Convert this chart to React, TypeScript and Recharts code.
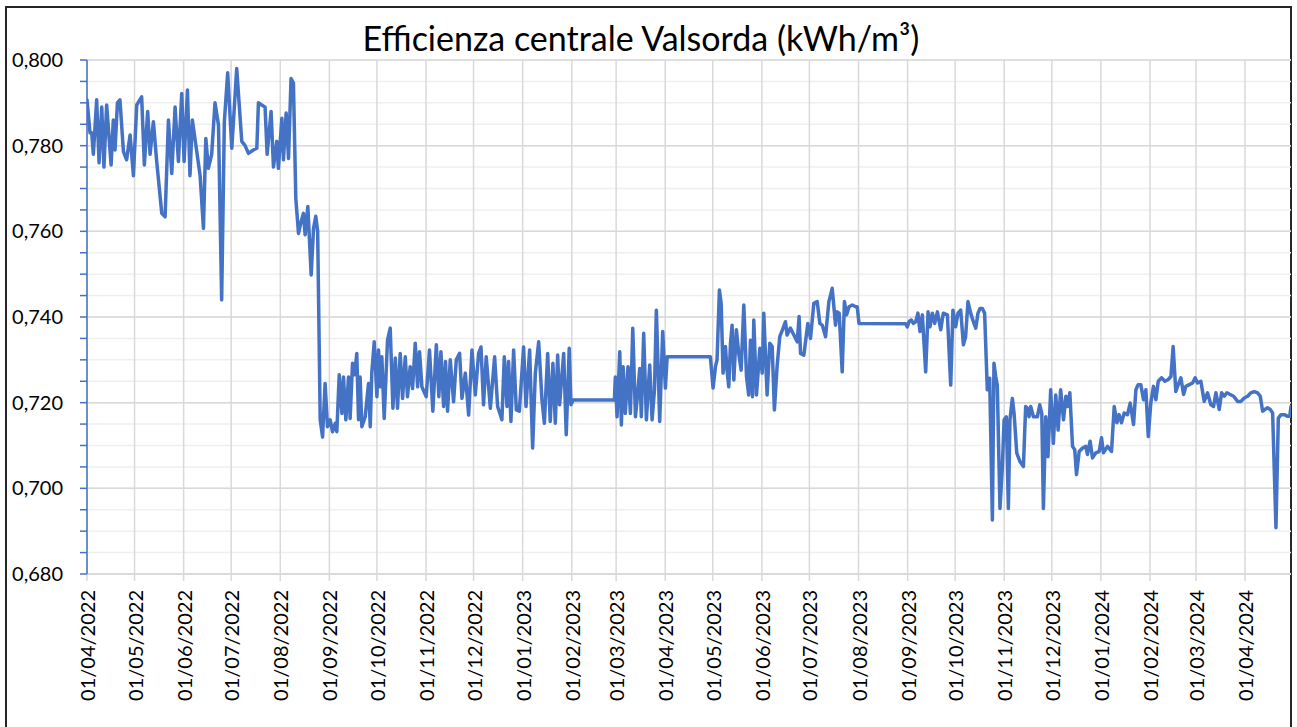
import React from 'react';
import { LineChart, Line, XAxis, YAxis, CartesianGrid } from 'recharts';

// giorni dal 01/04/2022
const monthDays = [0, 30, 61, 91, 122, 153, 183, 214, 244, 275, 306, 334, 365, 395, 426, 456, 487, 518, 548, 579, 609, 640, 671, 700, 731];
const monthLabels = [
  '01/04/2022', '01/05/2022', '01/06/2022', '01/07/2022', '01/08/2022', '01/09/2022', '01/10/2022',
  '01/11/2022', '01/12/2022', '01/01/2023', '01/02/2023', '01/03/2023', '01/04/2023', '01/05/2023',
  '01/06/2023', '01/07/2023', '01/08/2023', '01/09/2023', '01/10/2023', '01/11/2023', '01/12/2023',
  '01/01/2024', '01/02/2024', '01/03/2024', '01/04/2024',
];

const majorTicks = [0.68, 0.7, 0.72, 0.74, 0.76, 0.78, 0.8];
const allTicks = [
  0.68, 0.685, 0.69, 0.695, 0.7, 0.705, 0.71, 0.715, 0.72, 0.725, 0.73, 0.735, 0.74,
  0.745, 0.75, 0.755, 0.76, 0.765, 0.77, 0.775, 0.78, 0.785, 0.79, 0.795, 0.8,
];

// [giorno, kWh/m³]
const spring2022: [number, number][] = [
  [0, 0.7907], [1.9, 0.783], [3, 0.783], [4, 0.778], [6.1, 0.7907], [7.6, 0.776], [9.3, 0.789], [10.7, 0.775],
  [12.4, 0.7895], [15.2, 0.7755], [16.6, 0.786], [17.7, 0.779], [19.2, 0.79], [20.8, 0.7907], [23, 0.7786],
  [25, 0.7767], [27.2, 0.7825], [29.3, 0.773], [31.4, 0.7895], [34.5, 0.7914], [36.2, 0.7755], [38.3, 0.788],
  [39.8, 0.778], [41.9, 0.7856], [44, 0.7763], [47.2, 0.7642], [49.3, 0.7634], [51.4, 0.786], [53.5, 0.7735],
  [55.6, 0.789], [57.7, 0.7763], [59.8, 0.7922], [61.3, 0.7763], [63.4, 0.793], [65, 0.773], [66.5, 0.786],
  [69.3, 0.7786], [71.4, 0.773], [73.5, 0.7607], [75, 0.7817], [76.6, 0.7747], [78.7, 0.778], [80.8, 0.79],
  [83, 0.7848], [85, 0.744], [86.7, 0.7856], [88.8, 0.797], [91.4, 0.7794], [94.5, 0.798], [97.7, 0.781],
  [99.8, 0.78], [101.9, 0.7782], [105, 0.779], [107.2, 0.7794], [108.2, 0.79], [110.3, 0.7895], [112.4, 0.789],
  [113.7, 0.778], [116.2, 0.788], [117.7, 0.775], [119.8, 0.781], [120.8, 0.7747], [123, 0.7864], [124, 0.7767],
  [125.7, 0.7876], [127.2, 0.777], [128.8, 0.7957], [130.3, 0.7946], [131.8, 0.7677], [133.5, 0.7595],
  [135.2, 0.7623], [136.6, 0.7642], [137.7, 0.7592], [139.4, 0.7658], [141.5, 0.7498], [143, 0.7607],
  [144.4, 0.7635], [145.6, 0.76],
];

const autumn2022: [number, number][] = [
  [147.2, 0.716], [148.7, 0.712], [150.3, 0.7245], [151.8, 0.7144], [153.5, 0.716], [155, 0.7132], [156.7, 0.7152],
  [157.7, 0.7132], [159.2, 0.7265], [160.9, 0.7175], [161.9, 0.726], [163.4, 0.716], [165.1, 0.726], [166.1, 0.7163],
  [167.6, 0.7292], [168.9, 0.7265], [170.3, 0.7315], [171.4, 0.716], [172.4, 0.726], [173.5, 0.7144], [175.6, 0.7167],
  [177.7, 0.7245], [178.8, 0.7144], [179.8, 0.7272], [181.3, 0.7342], [183, 0.7214], [184, 0.7323], [185.1, 0.7237],
  [186.1, 0.7307], [187.6, 0.7163], [189.7, 0.7346], [191.4, 0.7374], [193.1, 0.7187], [194.6, 0.7304], [196, 0.7187],
  [197.7, 0.7315], [199.2, 0.721], [200.9, 0.7307], [202.3, 0.7214], [204, 0.7284], [205.5, 0.7233], [207.2, 0.7339],
  [208.7, 0.7237], [209.9, 0.7319], [211.4, 0.7237], [214.1, 0.7214], [216.2, 0.7323], [218.3, 0.718], [220.5, 0.7335],
  [222.1, 0.7214], [223.4, 0.7319], [225.1, 0.7191], [226.3, 0.7296], [227.6, 0.718], [229.3, 0.73], [231.4, 0.7202],
  [233.1, 0.73], [235.2, 0.7315], [236.7, 0.721], [238.8, 0.7269], [240.9, 0.7171], [243, 0.7323], [245.1, 0.7218],
  [247.2, 0.7315], [248.7, 0.733], [250.3, 0.7195], [252, 0.7307], [254.6, 0.7187], [257.3, 0.7307], [259.2, 0.7191],
  [261.9, 0.716], [263.4, 0.7307], [265.1, 0.7191], [266.1, 0.7296], [267.6, 0.7156], [269.3, 0.7323], [271, 0.7183],
  [272.9, 0.718], [275.6, 0.733], [277.1, 0.7191], [279.4, 0.7323], [281.3, 0.7094], [283, 0.7269], [285.1, 0.7342],
  [287.2, 0.7206], [288.7, 0.7152], [290.8, 0.7315], [292.4, 0.7156], [294.1, 0.7292], [295.6, 0.7152], [297.1, 0.7311],
  [298.3, 0.7195], [300.9, 0.7315], [302.5, 0.7125], [304.4, 0.7327], [305.5, 0.7195], [306.8, 0.7206], [332.9, 0.7206],
];

const spring2023: [number, number][] = [
  [333.5, 0.726], [334.6, 0.7167], [336.3, 0.7319], [337.3, 0.7148], [338.4, 0.7284], [339.8, 0.7175], [341.5, 0.7284],
  [343, 0.7175], [344.5, 0.7374], [346.2, 0.7167], [347.8, 0.723], [348.9, 0.728], [349.9, 0.7167], [351.4, 0.7362],
  [353.1, 0.716], [355.2, 0.7288], [356.7, 0.716], [358.2, 0.723], [359.4, 0.7416], [361.5, 0.7156], [363.4, 0.7366],
  [365.1, 0.7234], [366.2, 0.7307], [393.5, 0.7307], [395.2, 0.7234], [396.7, 0.7284], [397.7, 0.73], [399.2, 0.7463],
  [400.3, 0.7432], [401.5, 0.7269], [403, 0.7331], [404, 0.7276], [405.1, 0.7237], [406.2, 0.7339], [407.2, 0.7381],
  [408.3, 0.7253], [409.9, 0.737], [411.4, 0.7315], [412.9, 0.7276], [414.6, 0.7428], [416.3, 0.7261], [417.7, 0.7218],
  [418.8, 0.7346], [420.1, 0.7214], [420.9, 0.7393], [422.6, 0.7218], [424.7, 0.7327], [426.2, 0.7269], [427.2, 0.7409],
  [429.3, 0.7218], [431, 0.7339], [432.5, 0.7331], [433.9, 0.7183], [435.6, 0.7284], [437.3, 0.7354], [439.4, 0.7374],
  [440.9, 0.7389], [441.9, 0.7358], [444, 0.7374], [446.2, 0.7358], [448.3, 0.7342], [449.5, 0.7401], [450.4, 0.7315],
  [452.5, 0.7311], [455, 0.7385], [456.7, 0.735], [458.8, 0.7432], [460.9, 0.7436], [462.6, 0.7385], [464.1, 0.7381],
  [466.2, 0.7354], [468.3, 0.7436], [470.4, 0.7467], [472.5, 0.7381], [473.5, 0.7412], [474.8, 0.7409], [476.7, 0.7272],
  [478.1, 0.7436],
];

const summer2023: [number, number][] = [
  [479.5, 0.7405], [481, 0.7424], [483.1, 0.7428], [485.2, 0.7424], [486.2, 0.7424], [487.3, 0.7385], [516.8, 0.7384],
  [517.8, 0.7377], [518.9, 0.7389], [520.3, 0.7393], [521.6, 0.7385], [523.1, 0.7389], [524.5, 0.7409], [525.8, 0.7366],
  [527.3, 0.7405], [529.4, 0.7272], [530.9, 0.7412], [532.1, 0.7377], [533.6, 0.7409], [535.1, 0.7385], [536.8, 0.7412],
  [538.9, 0.737], [540.5, 0.7409], [543.1, 0.7405], [545.2, 0.7241], [546.6, 0.7416], [548.3, 0.7377], [549.8, 0.7409],
  [551.5, 0.7416], [553.2, 0.7335], [554.6, 0.7354], [556.1, 0.7436], [557.8, 0.7409], [559.5, 0.7389], [561, 0.7374],
  [562.4, 0.7409], [563.7, 0.742], [565.2, 0.742], [566.6, 0.7409], [568.3, 0.723], [569.8, 0.7257], [571.5, 0.6926],
  [572.5, 0.7292], [573.6, 0.7261], [574.6, 0.7241], [576.3, 0.6953], [577.8, 0.7051], [578.9, 0.716], [580.3, 0.7167],
  [581.6, 0.6953], [582.6, 0.716], [584.1, 0.721], [585.2, 0.7175], [586.9, 0.7082], [589, 0.7062], [591.1, 0.7051],
  [592.5, 0.7191], [593.6, 0.7187], [594.6, 0.7167], [595.7, 0.7191], [597.4, 0.7167], [599.9, 0.7167], [601.4, 0.7195],
  [602.7, 0.7175], [603.7, 0.6953], [605.2, 0.7167], [606.6, 0.7074], [608.3, 0.723], [610, 0.7105], [611.5, 0.7218],
  [613, 0.7136], [614.6, 0.723],
];

const winter2024: [number, number][] = [
  [616.4, 0.716], [617.9, 0.7215], [618.9, 0.7191], [620.4, 0.7223], [622.1, 0.7098], [623.5, 0.709], [624.6, 0.7032],
  [626.3, 0.7086], [628.4, 0.7094], [630.5, 0.7098], [631.5, 0.7079], [633.2, 0.711], [634.7, 0.7071], [636.8, 0.7083],
  [638.9, 0.7086], [640.4, 0.7118], [641.6, 0.7083], [644.2, 0.7098], [646.7, 0.7086], [648.4, 0.7191], [650.1, 0.7153],
  [651.5, 0.7172], [653, 0.7153], [654.7, 0.7176], [656.8, 0.7172], [658.5, 0.7199], [660.6, 0.7149], [662.1, 0.723],
  [663.5, 0.7242], [665.2, 0.7242], [666.9, 0.7207], [668.4, 0.723], [669.9, 0.7121], [671.5, 0.7199], [673.2, 0.7238],
  [674.7, 0.7207], [676.2, 0.725], [678.3, 0.7258], [680.4, 0.725], [682.5, 0.7254], [684.2, 0.7261], [685.6, 0.7331],
  [687.3, 0.7226], [688.8, 0.7242], [690.5, 0.7258], [692.2, 0.7219], [693.6, 0.7238], [695.8, 0.7242], [697.9, 0.7246],
  [699.5, 0.7258], [701, 0.7246], [703.1, 0.725], [705.2, 0.7203], [707.3, 0.7223], [709.4, 0.7195], [711.1, 0.7191],
  [712.6, 0.7223], [714.7, 0.7184], [716.2, 0.7223], [717.9, 0.7215], [719.5, 0.7223], [721.6, 0.7219], [723.8, 0.7215],
  [726.3, 0.7203], [728.4, 0.7203], [730.5, 0.7211], [732.6, 0.7215], [734.7, 0.7223], [736.8, 0.7226], [738.9, 0.7223],
  [740.6, 0.7215], [742.1, 0.718], [743.5, 0.7184], [745.2, 0.7188], [746.9, 0.7184], [748.4, 0.7176], [750.5, 0.6908],
  [752, 0.7164], [753.7, 0.7172], [755.8, 0.7172], [757.9, 0.7168], [759.2, 0.7168], [760, 0.7191],
];

const data = [...spring2022, ...autumn2022, ...spring2023, ...summer2023, ...winter2024].map(([day, eff]) => ({ day, eff }));

const FONT = 'Lato, "Noto Sans", sans-serif';

const DateTick = (props: any) => {
  const { x, y, payload } = props;
  const label = monthLabels[monthDays.indexOf(payload.value)];
  const ty = y + 7;
  return (
    <text
      x={x}
      y={ty}
      transform={`rotate(-90, ${x}, ${ty})`}
      textAnchor="end"
      dominantBaseline="central"
      fontSize={20}
      fontFamily={FONT}
      fill="#000"
    >
      {label}
    </text>
  );
};

const formatY = (v: number) => (Math.round(v * 1000) % 20 === 0 ? v.toFixed(3).replace('.', ',') : '');

export default function App() {
  return (
    <div style={{ position: 'absolute', left: 0, top: 0, width: 1297, height: 727, overflow: 'hidden', background: '#fff' }}>
      <div
        style={{
          position: 'absolute',
          left: 5,
          top: 6,
          width: 1287,
          height: 800,
          boxSizing: 'border-box',
          border: '2px solid #262626',
        }}
      />
      <svg style={{ position: 'absolute', left: 0, top: 0 }} width={1297} height={60}>
        <text x={641} y={51} textAnchor="middle" fontSize={34} fontFamily={FONT} fill="#000">
          Efficienza centrale Valsorda (kWh/m³)
        </text>
      </svg>
      <div style={{ position: 'absolute', left: 0, top: 0 }}>
        <LineChart width={1297} height={727} data={data} margin={{ top: 60, right: 6, left: 0, bottom: 0 }}>
          <CartesianGrid horizontalValues={allTicks} vertical={false} stroke="#efefef" strokeWidth={1.5} />
          <CartesianGrid horizontalValues={majorTicks} verticalValues={monthDays} stroke="#d9d9d9" strokeWidth={1.5} />
          <XAxis
            dataKey="day"
            type="number"
            domain={[0, 760]}
            ticks={monthDays}
            interval={0}
            height={153}
            tick={<DateTick />}
            tickSize={7}
            axisLine={{ stroke: '#d9d9d9', strokeWidth: 1.5 }}
            tickLine={{ stroke: '#d9d9d9', strokeWidth: 1.5 }}
            allowDataOverflow
          />
          <YAxis
            type="number"
            domain={[0.68, 0.8]}
            ticks={allTicks}
            interval={0}
            width={87}
            tickFormatter={formatY}
            tickSize={7}
            tickMargin={17}
            axisLine={{ stroke: '#4472c4', strokeWidth: 1.5 }}
            tickLine={{ stroke: '#4472c4', strokeWidth: 1.5 }}
            tick={{ fontSize: 20, fontFamily: FONT, fill: '#000' }}
            allowDataOverflow
          />
          <Line
            type="linear"
            dataKey="eff"
            stroke="#4472c4"
            strokeWidth={3.5}
            dot={false}
            isAnimationActive={false}
            strokeLinejoin="round"
            strokeLinecap="round"
          />
        </LineChart>
      </div>
    </div>
  );
}
